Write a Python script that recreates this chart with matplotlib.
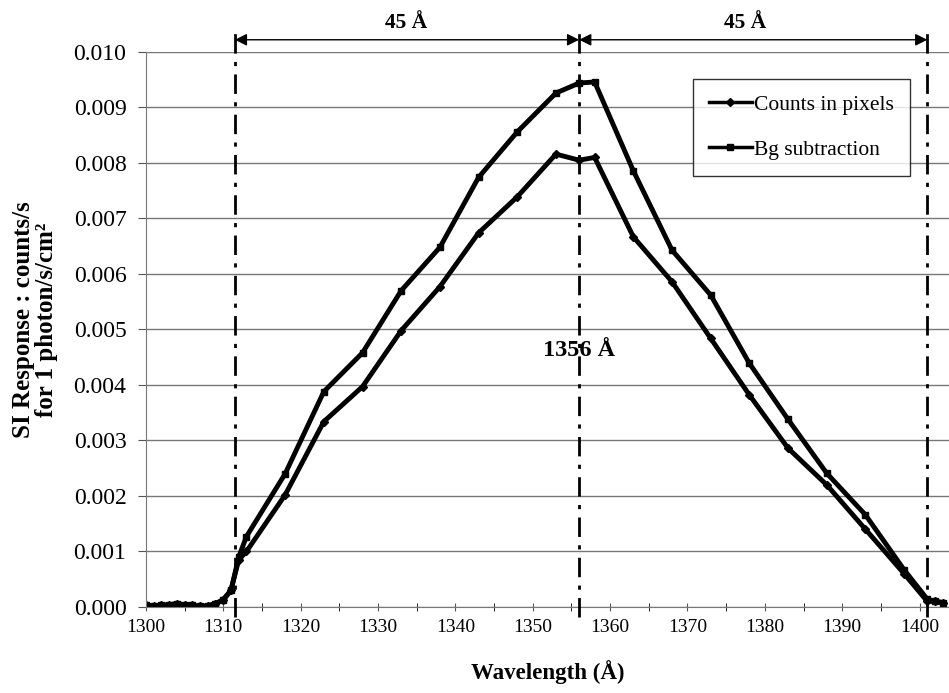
import matplotlib
matplotlib.use("Agg")
import matplotlib.pyplot as plt
from matplotlib.ticker import MultipleLocator, FormatStrFormatter

plt.rcParams['font.family'] = ['Liberation Serif', 'DejaVu Serif']

# wavelength grid (A) and SI response for both reductions
wl = [1300, 1301, 1302, 1303, 1304, 1305, 1306, 1307, 1308, 1309, 1310, 1311,
      1312, 1313, 1318, 1323, 1328, 1333, 1338, 1343, 1348, 1353, 1356, 1358,
      1363, 1368, 1373, 1378, 1383, 1388, 1393, 1398, 1401, 1402, 1403]

counts = [0.00003, 0.00002, 0.00003, 0.00004, 0.00006, 0.00004, 0.00003, 0.00001,
          0.00002, 0.00006, 0.00013, 0.00030,
          0.00085, 0.00100, 0.00202, 0.00334, 0.00397, 0.00498, 0.00577, 0.00674,
          0.00739, 0.00816, 0.00805, 0.00810,
          0.00667, 0.00586, 0.00484, 0.00382, 0.00286, 0.00220, 0.00140, 0.00060,
          0.00010, 0.00010, 0.00008]

bg_sub = [0.00003, 0.00002, 0.00003, 0.00004, 0.00006, 0.00004, 0.00003, 0.00001,
          0.00002, 0.00006, 0.00013, 0.00030,
          0.00090, 0.00127, 0.00240, 0.00388, 0.00458, 0.00570, 0.00648, 0.00774,
          0.00856, 0.00926, 0.00944, 0.00946,
          0.00786, 0.00643, 0.00562, 0.00439, 0.00338, 0.00241, 0.00166, 0.00067,
          0.00014, 0.00010, 0.00008]

# band limits and centre line
lim_lo = 1311.5
centre = 1356
lim_hi = 1401

fig = plt.figure(figsize=(9.49, 6.93), dpi=100)
ax = fig.add_axes([0.1537, 0.1241, 0.8463, 0.8009])

ax.plot(wl, counts, color='black', lw=3.5, marker='D', ms=4, label='Counts in pixels',
        solid_joinstyle='round')
ax.plot(wl, bg_sub, color='black', lw=3.5, marker='s', ms=4, label='Bg subtraction',
        solid_joinstyle='round')

ax.set_xlim(1300, 1403.8)
ax.set_ylim(0, 0.010)
ax.xaxis.set_major_locator(MultipleLocator(10))
ax.xaxis.set_minor_locator(MultipleLocator(5))
ax.yaxis.set_major_locator(MultipleLocator(0.001))
ax.yaxis.set_major_formatter(FormatStrFormatter('%.3f'))
ax.tick_params(axis='both', labelsize=14, color='#555555')
ax.tick_params(axis='x', which='both', direction='inout', length=6, pad=6)
ax.tick_params(axis='y', direction='out', length=6, pad=8, labelsize=17)

ax.grid(axis='y', color='#777777', lw=1)
ax.set_axisbelow(True)
for s in ['top', 'right']:
    ax.spines[s].set_visible(False)
for s in ['left', 'bottom']:
    ax.spines[s].set_color('#777777')

# dash-dot markers for the band
for xv in [lim_lo, centre, lim_hi]:
    ax.plot([xv, xv], [-0.00018, 0.01036], color='black', lw=2,
            ls=(0, (7, 3, 1.5, 3)), clip_on=False, zorder=4)

y_arr = 0.01022
for a, b in [(lim_lo, centre), (centre, lim_hi)]:
    ax.annotate('', xy=(a, y_arr), xytext=(b, y_arr), annotation_clip=False,
                arrowprops=dict(arrowstyle='<|-|>', color='black', lw=1,
                                mutation_scale=18, shrinkA=0, shrinkB=0))
ax.text(1333.6, 0.01053, '45 Å', ha='center', va='center', fontsize=15.5,
        fontweight='bold', clip_on=False)
ax.text(1377.5, 0.01053, '45 Å', ha='center', va='center', fontsize=15.5,
        fontweight='bold', clip_on=False)

ax.text(centre, 0.00463, '1356 Å', ha='center', va='center', fontsize=17.5,
        fontweight='bold')

ax.set_xlabel('Wavelength (Å)', fontsize=16.5, fontweight='bold', labelpad=17)
fig.text(35 / 949, 1 - 320 / 693, 'SI Response : counts/s\nfor 1 photon/s/cm²',
         rotation=90, ha='center', va='center', fontsize=18, fontweight='bold',
         linespacing=0.98)

leg = ax.legend(loc='upper left', bbox_to_anchor=(0.681, 0.952), fontsize=15.5,
                frameon=True, fancybox=False, edgecolor='black', handlelength=2.0,
                handletextpad=0.1, labelspacing=1.15, borderpad=0.75,
                borderaxespad=0)
leg.get_frame().set_linewidth(1)
for h in leg.legend_handles:
    h.set_linewidth(2.5)

fig.savefig('out.png', dpi=100)
